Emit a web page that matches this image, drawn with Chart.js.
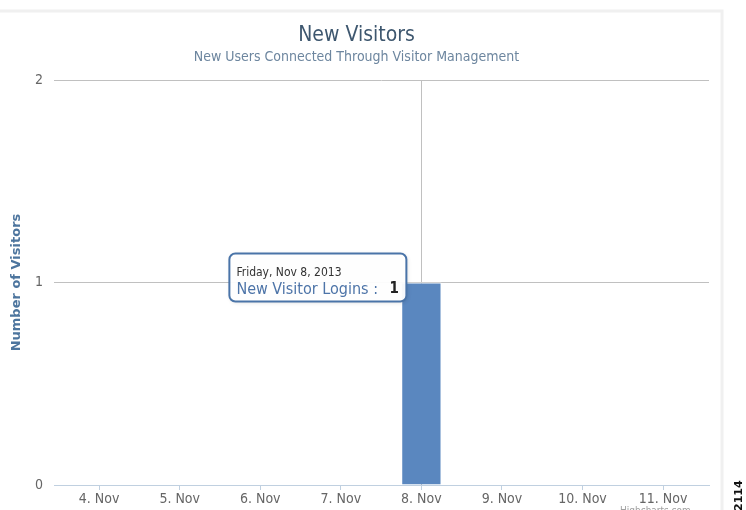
<!DOCTYPE html>
<html>
<head>
<meta charset="utf-8">
<script src="https://cdn.jsdelivr.net/npm/chart.js@4.4.0/dist/chart.umd.min.js"></script>
<style>
  html, body { margin: 0; padding: 0; background: #fff; }
  #wrap { width: 746px; height: 510px; }
</style>
</head>
<body>
<div id="wrap"><canvas id="visitorsChart" width="746" height="510"></canvas></div>
<script>
// day of month (Nov 2013) and the new visitor logins for each day
const days = [4, 5, 6, 7, 8, 9, 10, 11];
const dayLabels = ['4. Nov', '5. Nov', '6. Nov', '7. Nov', '8. Nov', '9. Nov', '10. Nov', '11. Nov'];
const visitors = [0, 0, 0, 0, 1, 0, 0, 0];
const yTicks = [0, 1, 2];

const hoverIndex = 4;
const hoverDate = 'Friday, Nov 8, 2013';
const seriesName = 'New Visitor Logins';

const FONT = "'DejaVu Sans Condensed', 'DejaVu Sans', sans-serif";

// crosshair + tooltip box + frame, drawn around the hovered bar
const decorations = {
    id: 'decorations',
    beforeDraw(chart) {
        const c = chart.ctx;
        c.save();
        c.strokeStyle = '#f0f0f0';
        c.lineWidth = 3;
        c.strokeRect(-2, 11, 724, 510);
        c.restore();
    },
    beforeDatasetsDraw(chart) {
        const bar = chart.getDatasetMeta(0).data[hoverIndex];
        const c = chart.ctx;
        c.save();
        c.strokeStyle = '#c0c0c0';
        c.lineWidth = 1;
        c.beginPath();
        c.moveTo(Math.round(bar.x) + 0.5, chart.chartArea.top);
        c.lineTo(Math.round(bar.x) + 0.5, chart.chartArea.bottom);
        c.stroke();
        c.restore();
    },
    afterDraw(chart) {
        const bar = chart.getDatasetMeta(0).data[hoverIndex];
        const c = chart.ctx;
        const bx = bar.x - 192, by = bar.y - 29, bw = 177, bh = 48;
        c.save();
        c.shadowColor = 'rgba(0,0,0,0.15)';
        c.shadowBlur = 4;
        c.shadowOffsetX = 1;
        c.shadowOffsetY = 1;
        c.beginPath();
        c.roundRect(bx, by, bw, bh, 6);
        c.fillStyle = 'rgba(255,255,255,0.95)';
        c.fill();
        c.shadowColor = 'transparent';
        c.strokeStyle = '#4a74a8';
        c.lineWidth = 2;
        c.stroke();

        c.textBaseline = 'middle';
        c.textAlign = 'left';
        c.fillStyle = '#333';
        c.font = '12px ' + FONT;
        c.fillText(hoverDate, bx + 7, by + 19);
        c.fillStyle = '#4d74a8';
        c.font = '16px ' + FONT;
        c.fillText(seriesName + ' :', bx + 7, by + 36);
        c.fillStyle = '#222';
        c.font = 'bold 15px ' + FONT;
        c.fillText(String(visitors[hoverIndex]), bx + 160, by + 36);

        // figure number at the right margin
        c.translate(742, 511);
        c.rotate(-Math.PI / 2);
        c.fillStyle = '#111';
        c.font = 'bold 11px DejaVu Sans';
        c.textBaseline = 'alphabetic';
        c.fillText('2114', 0, 0);
        c.restore();

        c.save();
        c.fillStyle = '#a0a0a0';
        c.font = '10px ' + FONT;
        c.textBaseline = 'top';
        c.fillText('Highcharts.com', 620, 506);
        c.restore();
    }
};

const ctx = document.getElementById('visitorsChart').getContext('2d');
const chart = new Chart(ctx, {
    type: 'bar',
    data: {
        datasets: [{
            label: seriesName,
            data: days.map((d, i) => ({ x: d, y: visitors[i] })),
            backgroundColor: '#5a87bf',
            borderColor: '#ffffff',
            borderWidth: 1,
            barPercentage: 0.5,
            categoryPercentage: 1
        }]
    },
    plugins: [decorations],
    options: {
        responsive: false,
        animation: false,
        events: [],
        layout: { padding: { left: 4, right: 37, top: 0, bottom: 0 } },
        plugins: {
            legend: { display: false },
            tooltip: { enabled: false },
            title: {
                display: true,
                text: 'New Visitors',
                color: '#3e576f',
                font: { family: FONT, size: 21, weight: 'normal' },
                padding: { top: 23, bottom: 0 }
            },
            subtitle: {
                display: true,
                text: 'New Users Connected Through Visitor Management',
                color: '#6d869f',
                font: { family: FONT, size: 14 },
                padding: { top: 1, bottom: 14 }
            }
        },
        scales: {
            x: {
                type: 'linear',
                offset: false,
                min: 3.44,
                max: 11.57,
                afterBuildTicks: s => { s.ticks = days.map(v => ({ value: v })); },
                afterFit: s => { s.height = 25; },
                border: { display: true, color: '#c0d0e0', width: 1 },
                grid: { offset: false, drawOnChartArea: false, drawTicks: true, tickLength: 5, color: '#c0d0e0' },
                ticks: {
                    color: '#666',
                    padding: 1,
                    maxRotation: 0,
                    autoSkip: false,
                    font: { family: FONT, size: 14 },
                    callback: v => dayLabels[days.indexOf(v)]
                }
            },
            y: {
                min: 0,
                max: 2,
                afterBuildTicks: s => { s.ticks = yTicks.map(v => ({ value: v })); },
                afterFit: s => { s.width = 50; },
                border: { display: false },
                grid: {
                    drawTicks: false,
                    color: c => c.tick.value === 0 ? 'rgba(0,0,0,0)' : '#c0c0c0'
                },
                ticks: {
                    color: '#666',
                    padding: 11,
                    font: { family: FONT, size: 14 }
                },
                title: {
                    display: true,
                    text: 'Number of Visitors',
                    color: '#4d759e',
                    font: { family: "'DejaVu Sans', sans-serif", size: 13, weight: 'bold' },
                    padding: { top: 5, bottom: 0 }
                }
            }
        }
    }
});
</script>
</body>
</html>
